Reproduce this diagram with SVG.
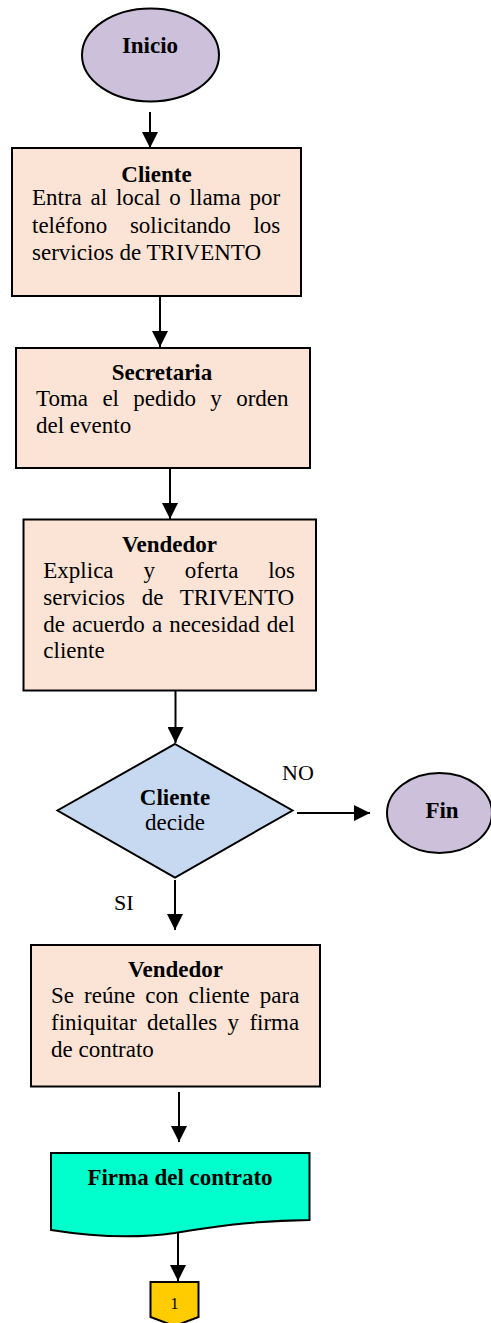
<svg xmlns="http://www.w3.org/2000/svg" width="491" height="1323" viewBox="0 0 491 1323">
<defs>
<marker id="arr" markerUnits="userSpaceOnUse" markerWidth="16" markerHeight="16" refX="16" refY="8" orient="auto">
<path d="M0,0 L16,8 L0,16 z" fill="#000"/>
</marker>
<style>
.t{font-family:"Liberation Serif","Times New Roman",serif;font-size:23px;fill:#000}
.b{font-weight:bold;text-anchor:middle}
.lbl{font-family:"Liberation Serif","Times New Roman",serif;font-size:22px;fill:#000}
.proc{fill:#FBE4D5;stroke:#000;stroke-width:2}
.term{fill:#CCC0DA;stroke:#000;stroke-width:2}
.dec{fill:#C6D9F0;stroke:#000;stroke-width:2}
.doc{fill:#00FFCC;stroke:#000;stroke-width:2}
.off{fill:#FFCC00;stroke:#000;stroke-width:2}
.c{stroke:#000;stroke-width:2;fill:none;marker-end:url(#arr)}
</style>
</defs>
<rect width="491" height="1323" fill="#fff"/>

<g id="connectors">
<line class="c" x1="150" y1="112" x2="150" y2="148"/>
<line class="c" x1="160" y1="297" x2="160" y2="347"/>
<line class="c" x1="170" y1="469" x2="170" y2="519"/>
<line class="c" x1="175.5" y1="691" x2="175.5" y2="743"/>
<line class="c" x1="297" y1="813" x2="370" y2="813"/>
<line class="c" x1="175" y1="880" x2="175" y2="930"/>
<line class="c" x1="179" y1="1092" x2="179" y2="1142"/>
<line class="c" x1="178" y1="1233" x2="178" y2="1281"/>
<text class="lbl" x="282" y="780">NO</text>
<text class="lbl" x="114" y="910">SI</text>
</g>

<g id="inicio">
<ellipse class="term" cx="150.5" cy="55" rx="68.5" ry="46.5"/>
<text class="t b" x="150" y="53">Inicio</text>
</g>

<g id="cliente">
<rect class="proc" x="12" y="148" width="289" height="148"/>
<text class="t b" x="156.5" y="182">Cliente</text>
<text class="t" x="32" y="205" word-spacing="3">Entra al local o llama por</text>
<text class="t" x="32" y="232.7" word-spacing="16.8">teléfono solicitando los</text>
<text class="t" x="32" y="260">servicios de TRIVENTO</text>
</g>

<g id="secretaria">
<rect class="proc" x="16" y="348" width="294" height="120"/>
<text class="t b" x="162" y="380">Secretaria</text>
<text class="t" x="36" y="406" word-spacing="8.6">Toma el pedido y orden</text>
<text class="t" x="36" y="433.3">del evento</text>
</g>

<g id="vendedor1">
<rect class="proc" x="23.5" y="519.5" width="292.5" height="171"/>
<text class="t b" x="169.5" y="552">Vendedor</text>
<text class="t" x="43.3" y="577.7" word-spacing="24.1">Explica y oferta los</text>
<text class="t" x="43.3" y="605" word-spacing="10.9">servicios de TRIVENTO</text>
<text class="t" x="43.3" y="632.3" word-spacing="1.3">de acuerdo a necesidad del</text>
<text class="t" x="43.3" y="658.3">cliente</text>
</g>

<g id="decide">
<polygon class="dec" points="175,744 292.5,810.5 175,877.5 57.5,810.5"/>
<text class="t b" x="175" y="805">Cliente</text>
<text class="t" x="175" y="830" text-anchor="middle">decide</text>
</g>

<g id="fin">
<ellipse class="term" cx="439.5" cy="813" rx="52.5" ry="40"/>
<text class="t b" x="442" y="818">Fin</text>
</g>

<g id="vendedor2">
<rect class="proc" x="31" y="945" width="289" height="141.5"/>
<text class="t b" x="175.5" y="977">Vendedor</text>
<text class="t" x="51" y="1003.3" word-spacing="4.3">Se reúne con cliente para</text>
<text class="t" x="51" y="1030" word-spacing="4.6">finiquitar detalles y firma</text>
<text class="t" x="51" y="1056.7">de contrato</text>
</g>

<g id="firma">
<path class="doc" d="M51,1153 L309.5,1153 L309.5,1220 C245,1221 205,1228 175,1233 C140,1238 95,1237 51,1230 Z"/>
<text class="t b" x="180" y="1185">Firma del contrato</text>
</g>

<g id="conector1">
<polygon class="off" points="150.5,1282 198.5,1282 198.5,1317 174.5,1326 150.5,1317"/>
<text x="174.5" y="1309" text-anchor="middle" style="font-family:'Liberation Serif','Times New Roman',serif;font-size:16px">1</text>
</g>
</svg>
